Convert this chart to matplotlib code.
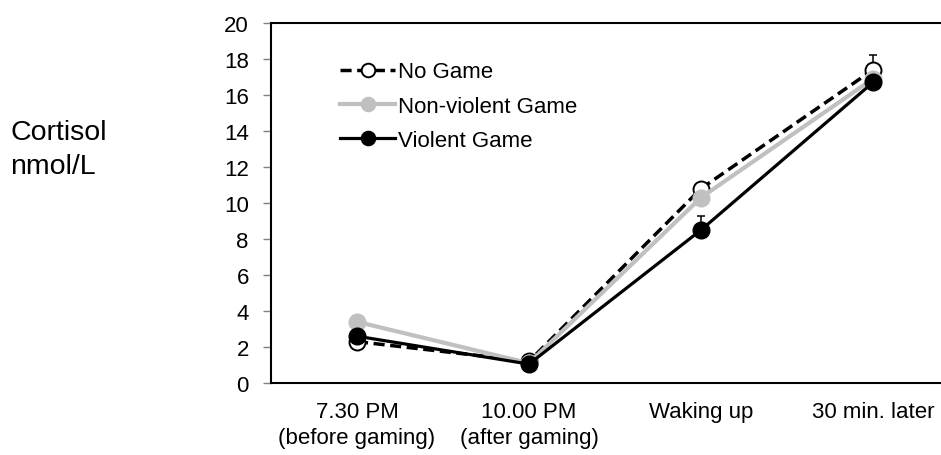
import matplotlib.pyplot as plt

plt.rcParams['font.family'] = ['Liberation Sans', 'DejaVu Sans']

categories = ['7.30 PM\n(before gaming)', '10.00 PM\n(after gaming)', 'Waking up', '30 min. later']
no_game = [2.3, 1.2, 10.8, 17.4]
non_violent = [3.4, 1.1, 10.3, 16.9]
violent = [2.6, 1.05, 8.5, 16.7]
no_game_err = [0.2, 0.1, 0.3, 0.8]
non_violent_err = [0.3, 0.1, 0.3, 0.3]
violent_err = [0.3, 0.1, 0.8, 0.3]

x = list(range(len(categories)))

fig = plt.figure(figsize=(9.41, 4.56), dpi=100)
# axes runs past the right edge like the cropped original
ax = fig.add_axes([271 / 941, 72 / 456, 688 / 941, 360 / 456])

# error bars (upper only) under the markers
for vals, err in [(no_game, no_game_err), (non_violent, non_violent_err), (violent, violent_err)]:
    ax.errorbar(x, vals, yerr=[[0] * len(err), err], fmt='none', ecolor='black',
                elinewidth=1.1, capsize=3, capthick=1.1, zorder=1)

ax.plot(x, no_game, color='black', lw=2.5, dashes=(3.2, 1.6), marker='o', ms=11.5,
        mfc='white', mec='black', mew=1.4, label='No Game', zorder=2)
ax.plot(x, non_violent, color='#c0c0c0', lw=3.0, marker='o', ms=12,
        mfc='#c0c0c0', mec='#c0c0c0', label='Non-violent Game', zorder=3)
ax.plot(x, violent, color='black', lw=2.3, marker='o', ms=12,
        mfc='black', mec='black', label='Violent Game', zorder=4)

ax.set_xlim(-0.5, 3.5)
ax.set_ylim(0, 20)
ax.set_yticks(range(0, 21, 2))
ax.set_xticks(x)
ax.set_xticklabels(categories, fontsize=16, linespacing=1.3)
ax.tick_params(axis='x', length=0, pad=13)
ax.tick_params(axis='y', length=6, width=1, color='#808080', labelsize=16, pad=10)

for s in ['left', 'bottom', 'top']:
    ax.spines[s].set_linewidth(1.5)
ax.spines['right'].set_visible(False)

ax.legend(loc='upper left', bbox_to_anchor=(0.087, 0.918), frameon=False, fontsize=16,
          handlelength=2.5, handletextpad=0.1, labelspacing=0.59, borderaxespad=0,
          markerscale=0.85)

fig.text(10 / 941, 1 - 150 / 456, 'Cortisol\nnmol/L', fontsize=20.5, ha='left', va='center',
         linespacing=1.35)

fig.savefig('out.png', dpi=100)
